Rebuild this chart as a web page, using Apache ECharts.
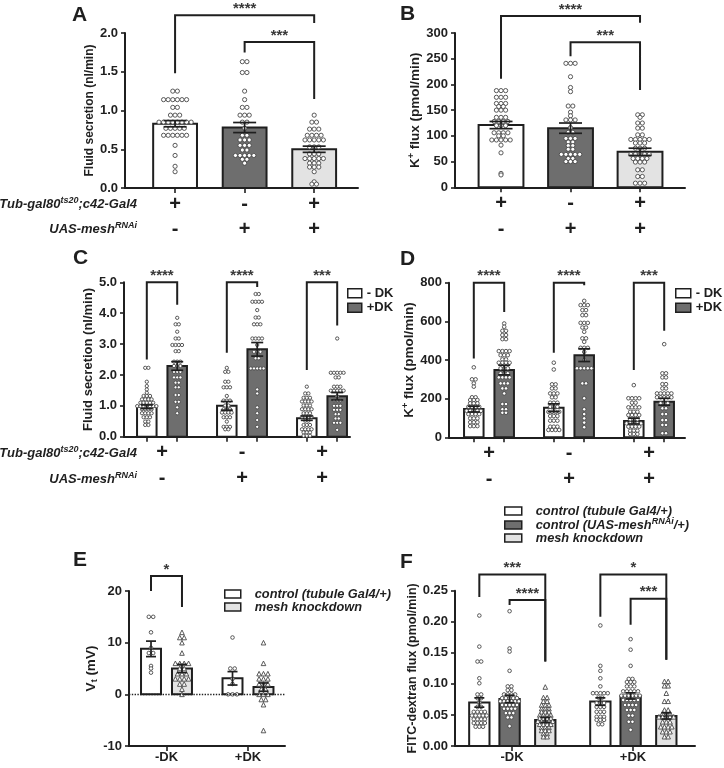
<!DOCTYPE html>
<html><head><meta charset="utf-8">
<script src="https://cdn.jsdelivr.net/npm/echarts@6/dist/echarts.min.js"></script>
<style>html,body{margin:0;padding:0;background:#fff}#c{width:724px;height:768px}</style>
</head><body><div id="c"></div>
<script>
// ================= DATA =================
const gal4Row = ['+', '-', '+'];
const rnaiRow = ['-', '+', '+'];
const dkCats = ['-DK', '+DK'];

// Panel A – fluid secretion (nl/min)
const A_mean = [0.83, 0.78, 0.50];
const A_sem = [0.04, 0.065, 0.04];
const A_pts1 = [1.25,1.25,1.14,1.14,1.14,1.14,1.14,1.14,1.04,1.04,0.94,0.94,0.94,0.85,0.85,0.85,0.85,0.85,0.85,0.85,0.85,0.77,0.77,0.77,0.77,0.77,0.68,0.68,0.68,0.68,0.68,0.68,0.55,0.42,0.28,0.21];
const A_pts2 = [1.63,1.63,1.49,1.49,1.25,1.14,1.04,1.04,0.94,0.94,0.94,0.85,0.85,0.77,0.68,0.68,0.62,0.62,0.62,0.55,0.55,0.55,0.49,0.49,0.42,0.42,0.42,0.42,0.42,0.37,0.37,0.32];
const A_pts3 = [0.94,0.85,0.85,0.76,0.76,0.76,0.68,0.68,0.68,0.68,0.62,0.62,0.62,0.62,0.62,0.53,0.53,0.53,0.44,0.44,0.44,0.38,0.38,0.38,0.38,0.38,0.32,0.32,0.32,0.27,0.27,0.27,0.21,0.08,0.05,0.05];
const A_brk = [[1.48, 2.23, 2.13], [1.75, 1.885, 1.15]];
const A_stars = ['****', '***'];

// Panel B – K+ flux (pmol/min)
const B_mean = [121, 115, 69];
const B_sem = [7, 10, 7];
const B_pts1 = [188,188,188,175,175,175,163,163,163,157,157,150,150,150,136,136,136,128,128,128,128,120,120,120,106,106,106,106,100,100,92,92,92,92,92,82,67,27,24];
const B_pts2 = [241,241,241,215,194,186,158,158,146,139,131,131,131,116,107,107,95,95,95,88,88,81,81,74,74,64,64,64,64,64,56,56,50,50,50];
const B_pts3 = [141,141,136,125,125,115,115,102,102,93,93,93,93,93,86,86,86,76,76,76,64,64,64,64,64,56,56,56,56,49,49,49,34,34,21,21,8,8,8];
const B_brk = [[211, 333, 320], [255, 282, 189]];
const B_stars = ['****', '***'];

// Panel C – fluid secretion, -DK / +DK
const C_minusMean = [0.97, 1.00, 0.60];
const C_minusSem = [0.06, 0.14, 0.07];
const C_plusMean = [2.29, 2.83, 1.31];
const C_plusSem = [0.14, 0.22, 0.12];
const C_w1 = [2.23,2.23,1.78,1.64,1.53,1.42,1.32,1.32,1.32,1.21,1.21,1.21,1.21,1.10,1.10,1.10,1.10,1.10,0.99,0.99,0.99,0.99,0.99,0.99,0.99,0.89,0.89,0.89,0.89,0.76,0.76,0.76,0.76,0.63,0.63,0.63,0.49,0.49,0.38,0.38];
const C_g1 = [3.85,3.64,3.64,3.40,3.18,3.18,2.97,2.97,2.97,2.97,2.77,2.77,2.43,2.43,2.43,2.29,2.29,2.29,2.10,2.10,2.10,1.92,1.92,1.92,1.75,1.75,1.60,1.60,1.35,1.35,1.13,1.13,0.95,0.76];
const C_w2 = [2.23,2.10,2.10,1.78,1.78,1.60,1.60,1.60,1.32,1.17,1.17,1.17,1.01,1.01,0.89,0.89,0.89,0.78,0.78,0.78,0.78,0.63,0.63,0.63,0.49,0.32,0.32,0.32,0.24,0.24];
const C_g2 = [4.62,4.62,4.37,4.37,4.37,4.37,4.10,3.86,3.86,3.64,3.64,3.64,3.18,3.18,3.18,3.18,2.97,2.75,2.75,2.75,2.54,2.54,2.21,2.21,2.21,2.21,2.21,1.53,1.40,0.95,0.76,0.54,0.32];
const C_w3 = [1.62,1.40,1.40,1.26,1.26,1.26,1.14,1.14,1.14,1.14,1.01,1.01,1.01,0.89,0.89,0.89,0.89,0.76,0.76,0.76,0.65,0.65,0.65,0.65,0.52,0.52,0.38,0.38,0.38,0.24,0.24,0.24,0.24,0.14,0.14,0.14,0.03,0.03,0.03];
const C_g3 = [3.18,2.07,2.07,2.07,2.07,2.07,1.92,1.92,1.62,1.62,1.62,1.49,1.49,1.49,1.49,1.49,1.31,1.18,1.18,1.18,1.00,1.00,1.00,0.87,0.87,0.87,0.73,0.73,0.59,0.59,0.45,0.45,0.45,0.22];
const C_brk = [[2.5, 5.0, 4.27], [2.72, 5.0, 4.85], [2.16, 5.0, 3.6]];
const C_stars = ['****', '****', '***'];

// Panel D – K+ flux, -DK / +DK
const D_minusMean = [146, 153, 84];
const D_minusSem = [15, 20, 15];
const D_plusMean = [348, 425, 184];
const D_plusSem = [25, 33, 18];
const D_w1 = [362,300,300,279,262,207,207,193,193,193,176,176,176,158,158,158,158,137,137,137,137,137,120,120,120,120,98,98,98,78,78,78,58,58,58];
const D_g1 = [589,572,551,551,529,529,508,508,446,446,446,446,425,425,425,403,403,386,386,386,386,357,357,357,331,331,331,310,310,310,310,279,279,279,253,253,227,172,172,145,145,127,127];
const D_w2 = [386,351,274,274,253,253,227,227,227,207,207,179,179,179,158,158,158,132,132,132,132,110,110,110,86,86,86,55,55,55,38,38,38,38];
const D_g2 = [706,684,684,684,658,658,632,632,592,592,592,568,568,546,512,512,494,463,463,463,442,400,357,357,357,357,357,279,279,202,145,120,98,76,52];
const D_w3 = [270,202,202,202,202,179,179,155,155,155,155,132,132,132,115,115,115,115,93,93,93,72,72,72,72,72,55,55,55,55,34,34,34,17,17,17];
const D_g3 = [482,331,331,310,310,275,275,253,253,227,227,227,227,227,207,207,207,207,207,176,176,176,150,150,120,120,89,89,64,64,21,21];
const D_brk = [[408, 800, 649], [437, 800, 787], [348, 800, 551]];
const D_stars = ['****', '****', '***'];

// Panel E – transepithelial potential Vt (mV)
const E_ctrlMean = [8.8, 3.1];
const E_ctrlSem = [1.5, 1.3];
const E_kdMean = [5.0, 1.4];
const E_kdSem = [0.8, 0.8];
const E_w1 = [15,15,12,9,8,8,5.5,5,4.2];
const E_l1 = [12,11,11,10,8,6,6,6,6,5,5,4,4,4,3,3,3,3,2,2,1,0];
const E_w2 = [11,5,5,3,2,0,0,0];
const E_l2 = [10,6,4,4,4,3,3,3,2,2,2,1,1,0,0,0,-1,-1,-2,-7];
const E_brk = [[20.0, 22.9, 16.9]];
const E_stars = ['*'];

// Panel F – FITC-dextran flux (pmol/min)
const F_ctrl1Mean = [0.070, 0.0715];
const F_ctrl1Sem = [0.0075, 0.006];
const F_ctrl2Mean = [0.0758, 0.0806];
const F_ctrl2Sem = [0.006, 0.005];
const F_kdMean = [0.042, 0.0484];
const F_kdSem = [0.004, 0.005];
const F_w1 = [0.210,0.160,0.136,0.136,0.109,0.101,0.083,0.083,0.077,0.077,0.070,0.063,0.063,0.055,0.055,0.055,0.055,0.049,0.049,0.049,0.049,0.049,0.043,0.043,0.043,0.043,0.037,0.037,0.037,0.037,0.031,0.031,0.031];
const F_d1 = [0.217,0.157,0.152,0.121,0.096,0.096,0.090,0.090,0.083,0.083,0.083,0.083,0.077,0.077,0.077,0.077,0.077,0.072,0.072,0.072,0.072,0.072,0.072,0.066,0.066,0.066,0.066,0.066,0.060,0.060,0.060,0.060,0.053,0.053,0.053,0.046,0.046,0.032];
const F_l1 = [0.095,0.078,0.078,0.072,0.072,0.066,0.066,0.066,0.060,0.060,0.060,0.055,0.055,0.055,0.050,0.050,0.050,0.050,0.045,0.045,0.045,0.045,0.040,0.040,0.040,0.040,0.040,0.035,0.035,0.035,0.035,0.030,0.030,0.030,0.025,0.025,0.025,0.020,0.020,0.015,0.015];
const F_w2 = [0.194,0.129,0.121,0.109,0.096,0.085,0.085,0.085,0.085,0.085,0.078,0.078,0.069,0.069,0.069,0.063,0.063,0.063,0.055,0.055,0.055,0.047,0.047,0.047,0.042,0.042,0.042,0.035,0.035];
const F_d2 = [0.172,0.155,0.129,0.108,0.108,0.103,0.103,0.103,0.096,0.096,0.096,0.088,0.088,0.088,0.088,0.088,0.081,0.081,0.081,0.081,0.081,0.081,0.074,0.074,0.074,0.074,0.074,0.066,0.066,0.066,0.066,0.058,0.058,0.058,0.049,0.049,0.039,0.039,0.026];
const F_l2 = [0.104,0.104,0.097,0.097,0.085,0.072,0.072,0.058,0.058,0.053,0.053,0.053,0.047,0.047,0.047,0.047,0.047,0.039,0.039,0.039,0.031,0.031,0.031,0.031,0.023,0.023,0.023,0.015,0.015];
const F_brk = [[0.24, 0.276, 0.136], [0.227, 0.235, 0.136], [0.208, 0.276, 0.139], [0.195, 0.237, 0.139]];
const F_stars = ['***', '****', '*', '***'];

const LEG_CD = ['- DK', '+DK'];
const LEG_EF = ['control (tubule Gal4/+)', 'control (UAS-meshRNAi/+)', 'mesh knockdown'];

// ================= STYLE / LAYOUT =================
const FONT = '"Liberation Sans", Arial, Helvetica, sans-serif';
const INK = '#1f1f1f';
const WHITE = '#ffffff', DARK = '#6e6e6e', LIGHT = '#e3e3e3';

function swarm(vals, pos, ppu, gap) {
  const cnt = new Map(), seen = new Map();
  vals.forEach(v => cnt.set(v, (cnt.get(v) || 0) + 1));
  return vals.map(v => {
    const n = cnt.get(v), i = seen.get(v) || 0; seen.set(v, i + 1);
    return [pos + (i - (n - 1) / 2) * gap / ppu, v];
  });
}

const supRich = (size) => ({
  a: { fontFamily: FONT, fontWeight: 'bold', fontSize: size, color: INK, lineHeight: size + 3 },
  s: { fontFamily: FONT, fontWeight: 'bold', fontSize: Math.round(size * 0.68), color: INK, verticalAlign: 'top' },
  b: { fontFamily: FONT, fontWeight: 'bold', fontSize: Math.round(size * 0.68), color: INK, verticalAlign: 'bottom' }
});

const oC = 0.19, oE = 0.19, oF = [-0.27, -0.02, 0.275];
const PANELS = [
  { grid: {left:125, top:33, width:233, height:155}, xr:[-0.72, 2.63], y:[0, 2, 0.5, 1],
    yName:'Fluid secretion (nl/min)', nameSize:12, nameGap:17, bw:0.63, cap:23, dot:4.2, tri:5, gap:4.6,
    xlab:'geno', ticks:[0,1,2], labs:[0,1,2],
    bars:[
      {name:'A1', color:WHITE, sym:'circle', xs:[0], m:[A_mean[0]], e:[A_sem[0]], pts:[A_pts1]},
      {name:'A2', color:DARK, sym:'circle', xs:[1], m:[A_mean[1]], e:[A_sem[1]], pts:[A_pts2]},
      {name:'A3', color:LIGHT, sym:'circle', xs:[2], m:[A_mean[2]], e:[A_sem[2]], pts:[A_pts3]}],
    brk:[{x:[0,2], y:A_brk[0], t:A_stars[0]}, {x:[1,2], y:A_brk[1], t:A_stars[1]}] },
  { grid: {left:455, top:33, width:230, height:154.3}, xr:[-0.662, 2.647], y:[0, 300, 50, 0],
    yName:'{a|K}{s|+}{a| flux (pmol/min)}', nameSize:13.5, nameGap:24, bw:0.645, cap:23, dot:4.2, tri:5, gap:4.6,
    xlab:'geno', ticks:[0,1,2], labs:[0,1,2],
    bars:[
      {name:'B1', color:WHITE, sym:'circle', xs:[0], m:[B_mean[0]], e:[B_sem[0]], pts:[B_pts1]},
      {name:'B2', color:DARK, sym:'circle', xs:[1], m:[B_mean[1]], e:[B_sem[1]], pts:[B_pts2]},
      {name:'B3', color:LIGHT, sym:'circle', xs:[2], m:[B_mean[2]], e:[B_sem[2]], pts:[B_pts3]}],
    brk:[{x:[0,2], y:B_brk[0], t:B_stars[0]}, {x:[1,2], y:B_brk[1], t:B_stars[1]}] },
  { grid: {left:124, top:282.3, width:226, height:154.4}, xr:[-0.475, 2.35], y:[0, 5, 1, 1],
    yName:'Fluid secretion (nl/min)', nameSize:13, nameGap:13, bw:0.244, cap:12, dot:3.3, tri:4.5, gap:3.2,
    xlab:'geno', ticks:[-oC, oC, 1-oC, 1+oC, 2-oC, 2+oC], labs:[0,1,2],
    bars:[
      {name:LEG_CD[0], color:WHITE, sym:'circle', xs:[-oC, 1-oC, 2-oC], m:C_minusMean, e:C_minusSem, pts:[C_w1, C_w2, C_w3]},
      {name:LEG_CD[1], color:DARK, sym:'circle', xs:[oC, 1+oC, 2+oC], m:C_plusMean, e:C_plusSem, pts:[C_g1, C_g2, C_g3]}],
    brk:[0,1,2].map(g => ({x:[g-oC, g+oC], y:C_brk[g], t:C_stars[g]})) },
  { grid: {left:449, top:282.7, width:236, height:154.6}, xr:[-0.5, 2.45], y:[0, 800, 200, 0],
    yName:'{a|K}{s|+}{a| flux (pmol/min)}', nameSize:13.5, nameGap:16, bw:0.244, cap:12, dot:3.6, tri:4.5, gap:3.6,
    xlab:'geno', ticks:[-oC, oC, 1-oC, 1+oC, 2-oC, 2+oC], labs:[0,1,2],
    bars:[
      {name:LEG_CD[0], color:WHITE, sym:'circle', xs:[-oC, 1-oC, 2-oC], m:D_minusMean, e:D_minusSem, pts:[D_w1, D_w2, D_w3]},
      {name:LEG_CD[1], color:DARK, sym:'circle', xs:[oC, 1+oC, 2+oC], m:D_plusMean, e:D_plusSem, pts:[D_g1, D_g2, D_g3]}],
    brk:[0,1,2].map(g => ({x:[g-oC, g+oC], y:D_brk[g], t:D_stars[g]})) },
  { grid: {left:129, top:591, width:156, height:155}, xr:[-0.46, 1.454], y:[-10, 20, 10, 0],
    yName:'{a|V}{b|t}{a| (mV)}', nameSize:13.5, nameGap:18, bw:0.245, cap:10, dot:3.6, tri:4.6, gap:4.4,
    xlab:'dk', ticks:[0,1], labs:[0,1], zeroLine:true,
    bars:[
      {name:LEG_EF[0], color:WHITE, sym:'circle', xs:[-oE, 1-oE], m:E_ctrlMean, e:E_ctrlSem, pts:[E_w1, E_w2]},
      {name:LEG_EF[2], color:LIGHT, sym:'triangle', xs:[oE, 1+oE], m:E_kdMean, e:E_kdSem, pts:[E_l1, E_l2]}],
    brk:[{x:[-oE, oE], y:E_brk[0], t:E_stars[0]}] },
  { grid: {left:455, top:590.7, width:240, height:155.3}, xr:[-0.471, 1.512], y:[0, 0.25, 0.05, 2],
    yName:'FITC-dextran flux (pmol/min)', nameSize:12.5, nameGap:31, bw:0.168, cap:10, dot:3.6, tri:4.6, gap:3.7,
    xlab:'dk', ticks:[0,1], labs:[0,1],
    bars:[
      {name:LEG_EF[0], color:WHITE, sym:'circle', xs:[oF[0], 1+oF[0]], m:F_ctrl1Mean, e:F_ctrl1Sem, pts:[F_w1, F_w2]},
      {name:LEG_EF[1], color:DARK, sym:'circle', xs:[oF[1], 1+oF[1]], m:F_ctrl2Mean, e:F_ctrl2Sem, pts:[F_d1, F_d2]},
      {name:LEG_EF[2], color:LIGHT, sym:'triangle', xs:[oF[2], 1+oF[2]], m:F_kdMean, e:F_kdSem, pts:[F_l1, F_l2]}],
    brk:[{x:[oF[0], oF[2]], y:F_brk[0], t:F_stars[0]}, {x:[oF[1], oF[2]], y:F_brk[1], t:F_stars[1]},
         {x:[1+oF[0], 1+oF[2]], y:F_brk[2], t:F_stars[2]}, {x:[1+oF[1], 1+oF[2]], y:F_brk[3], t:F_stars[3]}] }
];

const opt = { animation:false, backgroundColor:'#fff', grid:[], xAxis:[], yAxis:[], series:[], legend:[], graphic:[] };

PANELS.forEach((p, gi) => {
  const ppu = p.grid.width / (p.xr[1] - p.xr[0]);
  opt.grid.push(Object.assign({ outerBoundsMode:'none', containLabel:false }, p.grid));
  const geno = p.xlab === 'geno';
  opt.xAxis.push({
    type:'value', gridIndex:gi, min:p.xr[0], max:p.xr[1], splitLine:{show:false},
    axisLine:{show:true, onZero:false, lineStyle:{color:INK, width:2}},
    axisTick:{show:true, length:5, customValues:p.ticks, lineStyle:{color:INK, width:1.6}},
    axisLabel:{show:true, customValues:p.labs, margin: geno ? 3.5 : 5, color:INK, fontFamily:FONT, fontWeight:'bold', fontSize:13,
      formatter: geno ? (v => { const i = Math.round(v); return '{p|' + gal4Row[i] + '}\n{p|' + rnaiRow[i] + '}'; })
                      : (v => dkCats[Math.round(v)]),
      rich:{ p:{ fontFamily:FONT, fontWeight:'bold', fontSize:20, lineHeight:25.5, color:INK } } }
  });
  opt.yAxis.push({
    type:'value', gridIndex:gi, min:p.y[0], max:p.y[1], interval:p.y[2], splitLine:{show:false},
    axisLine:{show:true, onZero:false, lineStyle:{color:INK, width:2}},
    axisTick:{show:true, length:4, lineStyle:{color:INK, width:1.6}},
    axisLabel:{margin:7, color:INK, fontFamily:FONT, fontWeight:'bold', fontSize:13, formatter: v => v.toFixed(p.y[3])},
    name:p.yName, nameLocation:'middle', nameGap:p.nameGap, nameRotate:90,
    nameTextStyle:{ color:INK, fontFamily:FONT, fontWeight:'bold', fontSize:p.nameSize, rich:supRich(p.nameSize) }
  });
  let firstDots = true;
  p.bars.forEach(b => {
    opt.series.push({
      type:'custom', name:b.name, xAxisIndex:gi, yAxisIndex:gi, z:2, clip:false, silent:true,
      itemStyle:{color:b.color, borderColor:INK, borderWidth:1.5}, encode:{x:0, y:1},
      data: b.xs.map((x, i) => [x, b.m[i]]),
      renderItem: (params, api) => {
        const x = api.value(0), v = api.value(1);
        const p0 = api.coord([x, 0]), p1 = api.coord([x, v]);
        const w = api.size([p.bw, 0])[0];
        return { type:'rect', shape:{ x:p0[0] - w / 2, y:Math.min(p0[1], p1[1]), width:w, height:Math.abs(p0[1] - p1[1]) },
                 style:{ fill:b.color, stroke:INK, lineWidth:2 } };
      }
    });
    b.pts.forEach((arr, i) => {
      const s = {
        type:'scatter', name:'pts', xAxisIndex:gi, yAxisIndex:gi, z:3, silent:true,
        symbol:b.sym, symbolSize: b.sym === 'triangle' ? p.tri : p.dot,
        itemStyle:{ color:'#ffffff', borderColor:'#474747', borderWidth:0.9, opacity:1 },
        data: swarm(arr, b.xs[i], ppu, p.gap)
      };
      if (p.zeroLine && firstDots) {
        s.markLine = { silent:true, symbol:['none','none'], label:{show:false}, animation:false,
                       lineStyle:{ type:'dotted', color:'#222', width:1.4 }, data:[{ yAxis:0 }] };
        firstDots = false;
      }
      opt.series.push(s);
    });
    opt.series.push({
      type:'custom', name:'err', xAxisIndex:gi, yAxisIndex:gi, z:4, clip:false, silent:true, encode:{x:0, y:1},
      data: b.xs.map((x, i) => [x, b.m[i], b.e[i]]),
      renderItem: (params, api) => {
        const x = api.value(0), m = api.value(1), e = api.value(2);
        const t = api.coord([x, m + e]), d = api.coord([x, m - e]);
        const h = p.cap / 2, st = { stroke:INK, lineWidth:1.7 };
        return { type:'group', children:[
          { type:'line', shape:{x1:t[0], y1:t[1], x2:d[0], y2:d[1]}, style:st },
          { type:'line', shape:{x1:t[0] - h, y1:t[1], x2:t[0] + h, y2:t[1]}, style:st },
          { type:'line', shape:{x1:d[0] - h, y1:d[1], x2:d[0] + h, y2:d[1]}, style:st } ] };
      }
    });
  });
  opt.series.push({
    type:'custom', name:'sig', xAxisIndex:gi, yAxisIndex:gi, z:5, clip:false, silent:true, encode:{x:[0,1], y:[2,3,4]},
    data: p.brk.map(k => [k.x[0], k.x[1], k.y[0], k.y[1], k.y[2]]),
    renderItem: (params, api) => {
      const a = api.coord([api.value(0), api.value(2)]), b = api.coord([api.value(0), api.value(3)]);
      const c = api.coord([api.value(1), api.value(3)]), d = api.coord([api.value(1), api.value(4)]);
      return { type:'group', children:[
        { type:'polyline', shape:{ points:[a, b, c, d] }, style:{ stroke:INK, lineWidth:2, fill:'none' } },
        { type:'text', x:(b[0] + c[0]) / 2, y:b[1] + 1,
          style:{ text:p.brk[params.dataIndex].t, font:'bold 15px ' + FONT, fill:'#3a3a3a', align:'center', verticalAlign:'bottom' } } ] };
    }
  });
});

const legIcon = (c) => ({ color:c, borderColor:INK, borderWidth:1.5 });
const cdText = { color:INK, fontFamily:FONT, fontWeight:'bold', fontSize:13, lineHeight:14.5 };
opt.legend.push({ left:347, top:286, orient:'vertical', selectedMode:false, icon:'rect', itemWidth:14, itemHeight:9, itemGap:0, padding:0,
  textStyle:cdText, data:[{name:LEG_CD[0], itemStyle:legIcon(WHITE)}, {name:LEG_CD[1], itemStyle:legIcon(DARK)}] });
opt.legend.push({ left:675, top:286, orient:'vertical', selectedMode:false, icon:'rect', itemWidth:15, itemHeight:9, itemGap:0, padding:0,
  textStyle:cdText, data:[{name:LEG_CD[0], itemStyle:legIcon(WHITE)}, {name:LEG_CD[1], itemStyle:legIcon(DARK)}] });
const efRich = (lh) => ({
  g:{ width:9 },
  i:{ fontFamily:FONT, fontStyle:'italic', fontWeight:'bold', fontSize:12.8, color:INK, lineHeight:lh },
  s:{ fontFamily:FONT, fontStyle:'italic', fontWeight:'bold', fontSize:9, color:INK, verticalAlign:'top' }
});
const efFmt = (name) => name === LEG_EF[1]
  ? '{g|}{i|control (UAS-mesh}{s|RNAi}{i|/+)}' : '{g|}{i|' + name + '}';
opt.legend.push({ left:224, top:587.5, orient:'vertical', selectedMode:false, icon:'rect', itemWidth:16, itemHeight:8, itemGap:0, padding:0,
  formatter:efFmt, textStyle:{ rich:efRich(14.4) },
  data:[{name:LEG_EF[0], itemStyle:legIcon(WHITE)}, {name:LEG_EF[2], itemStyle:legIcon(LIGHT)}] });
opt.legend.push({ left:504, top:504.5, orient:'vertical', selectedMode:false, icon:'rect', itemWidth:17, itemHeight:8, itemGap:0, padding:0,
  formatter:efFmt, textStyle:{ rich:efRich(15) },
  data:[{name:LEG_EF[0], itemStyle:legIcon(WHITE)}, {name:LEG_EF[1], itemStyle:legIcon(DARK)}, {name:LEG_EF[2], itemStyle:legIcon(LIGHT)}] });

const letter = (t, x, y) => ({ type:'text', x:x, y:y, style:{ text:t, font:'bold 21px ' + FONT, fill:INK, verticalAlign:'middle' } });
const rowRich = {
  a:{ font:'italic bold 13px ' + FONT, fill:INK, lineHeight:16 },
  s:{ font:'italic bold 9px ' + FONT, fill:INK, verticalAlign:'top' }
};
const rowLabel = (txt, y) => ({ type:'text', x:137, y:y, style:{ text:txt, rich:rowRich, align:'right', verticalAlign:'middle' } });
opt.graphic = [
  letter('A', 72, 15), letter('B', 400, 14), letter('C', 73, 258), letter('D', 400, 259), letter('E', 73, 560), letter('F', 400, 562),
  rowLabel('{a|Tub-gal80}{s|ts20}{a|;c42-Gal4}', 204), rowLabel('{a|UAS-mesh}{s|RNAi}', 229),
  rowLabel('{a|Tub-gal80}{s|ts20}{a|;c42-Gal4}', 453), rowLabel('{a|UAS-mesh}{s|RNAi}', 479)
];

const chart = echarts.init(document.getElementById('c'), null, { renderer:'canvas', width:724, height:768 });
chart.setOption(opt);
</script>
</body></html>
